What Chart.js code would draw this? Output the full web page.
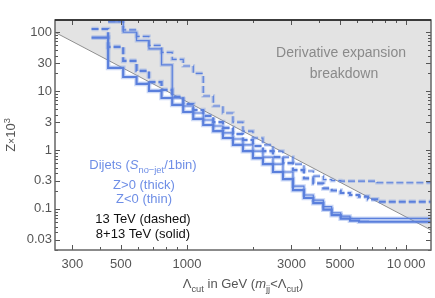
<!DOCTYPE html>
<html>
<head>
<meta charset="utf-8">
<script src="https://cdn.jsdelivr.net/npm/chart.js@4.4.1/dist/chart.umd.min.js"></script>
<style>
  html, body { margin: 0; padding: 0; background: #fff; }
  #wrap { width: 435px; height: 298px; }
</style>
</head>
<body>
<div id="wrap"><canvas id="zChart" width="435" height="298"></canvas></div>
<script>
// bin edges of the cut, GeV
const binEdges = [367, 437, 512, 589, 671, 766, 857, 962, 1069, 1187, 1319, 1460, 1622, 1802,
    2001, 2223, 2470, 2744, 3048, 3421, 3773, 4193, 4578, 5033, 5552, 6101, 6707, 7373, 13000];

// Z x 10^3 per bin (8+13 TeV solid, 13 TeV dashed; Z>0 thick, Z<0 thin)
const thickSolid = [81.3, 24.8, 17.4, 13.3, 10.1, 7.66, 5.83, 4.43, 3.37, 2.66, 2.10, 1.60, 1.22, 0.96,
    0.73, 0.578, 0.423, 0.321, 0.209, 0.153, 0.125, 0.0973, 0.0785, 0.0684, 0.0632, 0.0608, 0.0604, 0.0604];
const thickDashed = [114, 56.5, 32.6, 22.1, 14.3, 10.5, 7.97, 6.06, 4.79, 3.79, 2.99, 2.37, 1.87, 1.48,
    1.17, 0.96, 0.760, 0.601, 0.457, 0.330, 0.271, 0.223, 0.205, 0.186, 0.172, 0.161, 0.145, 0.132];
// thin curves start at the second edge
const thinSolid = [150, 100.4, 72.2, 52.2, 27.9, 7.66, 5.60, 4.26, 3.24, 2.56, 1.95, 1.54, 1.22,
    0.96, 0.760, 0.578, 0.423, 0.244, 0.172, 0.141, 0.109, 0.0859, 0.0755, 0.0690, 0.0690, 0.0690, 0.0690];
const thinDashed = [156, 110, 85.2, 59.9, 45.5, 34.6, 26.8, 20.0, 8.28, 5.60, 4.26, 2.99, 2.10,
    1.60, 1.22, 0.96, 0.760, 0.578, 0.440, 0.361, 0.315, 0.301, 0.297, 0.297, 0.297, 0.297, 0.278];

// derivative expansion breakdown boundary
const boundaryX = [250, 13000];
const boundaryY = [100, 0.0436];

const xTickLabels = [300, 500, 1000, 3000, 5000, 10000];
const xMinorTicks = [400, 600, 700, 800, 900, 2000, 4000, 6000, 7000, 8000, 9000];
const yTickLabels = [100, 30, 10, 3, 1, 0.3, 0.1, 0.03];
const yMinorTicks = [0.02, 0.04, 0.05, 0.06, 0.07, 0.08, 0.09, 0.2, 0.4, 0.5, 0.6, 0.7, 0.8, 0.9,
    2, 4, 5, 6, 7, 8, 9, 20, 40, 50, 60, 70, 80, 90];

const FONT = "'Liberation Sans', Arial, sans-serif";
const lineBlue = '#5a7fdc';
const haloBlue = 'rgba(110, 145, 230, 0.35)';
const textBlue = '#6e8ee6';
const labelGray = '#555';

function stepPoints(values, start) {
    const pts = values.map((v, i) => ({ x: binEdges[start + i], y: v }));
    pts.push({ x: binEdges[start + values.length], y: values[values.length - 1] });
    return pts;
}

function curve(values, start, width, dashed, halo) {
    return {
        data: stepPoints(values, start),
        stepped: true,
        borderColor: halo ? haloBlue : lineBlue,
        borderWidth: halo ? width + 2.5 : width,
        borderDash: dashed ? [7, 3] : [],
        pointRadius: 0,
        fill: false,
        order: halo ? 5 : 0,
    };
}

// draws text runs; sub / sup / italic / small
function drawRuns(ctx, runs, x, y, size, color, align) {
    const fontFor = (r) => {
        let s = size;
        if (r.sub || r.sup) s = size * 0.72;
        if (r.small) s = size * 0.8;
        return (r.italic ? 'italic ' : '') + s + 'px ' + FONT;
    };
    let total = 0;
    runs.forEach((r) => {
        ctx.font = fontFor(r);
        r.w = ctx.measureText(r.t).width;
        total += r.w;
    });
    let cx = align === 'left' ? x : x - total / 2;
    ctx.fillStyle = color;
    ctx.textBaseline = 'alphabetic';
    ctx.textAlign = 'left';
    runs.forEach((r) => {
        ctx.font = fontFor(r);
        let dy = 0;
        if (r.sub) dy = size * 0.28;
        if (r.sup) dy = -size * 0.42;
        ctx.fillText(r.t, cx, y + dy);
        cx += r.w;
    });
}

const framePlugin = {
    id: 'frameAndText',
    afterDraw(chart) {
        const { ctx, chartArea: a, scales } = chart;
        ctx.save();
        // ticks pointing inward on all four sides
        ctx.strokeStyle = '#555';
        ctx.lineWidth = 1;
        const yTicks = yTickLabels.map((v) => [v, 5]).concat(yMinorTicks.map((v) => [v, 3]));
        yTicks.forEach(([v, len]) => {
            const py = Math.round(scales.y.getPixelForValue(v)) + 0.5;
            ctx.beginPath();
            ctx.moveTo(a.left, py); ctx.lineTo(a.left + len, py);
            ctx.moveTo(a.right, py); ctx.lineTo(a.right - len, py);
            ctx.stroke();
        });
        const xTicks = xTickLabels.map((v) => [v, 5]).concat(xMinorTicks.map((v) => [v, 3]));
        xTicks.forEach(([v, len]) => {
            const px = Math.round(scales.x.getPixelForValue(v)) + 0.5;
            ctx.beginPath();
            ctx.moveTo(px, a.bottom); ctx.lineTo(px, a.bottom - len);
            ctx.moveTo(px, a.top); ctx.lineTo(px, a.top + len);
            ctx.stroke();
        });
        // frame
        ctx.strokeStyle = '#666';
        ctx.lineWidth = 1.5;
        ctx.strokeRect(a.left, a.top, a.right - a.left, a.bottom - a.top);
        ctx.strokeStyle = '#222';
        ctx.beginPath();
        ctx.moveTo(a.left, a.top); ctx.lineTo(a.right, a.top);
        ctx.stroke();

        // region label
        drawRuns(ctx, [{ t: 'Derivative expansion' }], 341, 57, 14, '#8a8a8a');
        drawRuns(ctx, [{ t: 'breakdown' }], 344, 77.5, 14, '#8a8a8a');

        // legend block
        drawRuns(ctx, [{ t: 'Dijets (' }, { t: 'S', italic: true }, { t: 'no\u2212jet', sub: true },
            { t: '/1bin)' }], 143, 169, 13, textBlue);
        drawRuns(ctx, [{ t: 'Z>0 (thick)' }], 144, 189, 13, textBlue);
        drawRuns(ctx, [{ t: 'Z<0 (thin)' }], 144, 203, 13, textBlue);
        drawRuns(ctx, [{ t: '13 TeV (dashed)' }], 143, 222.5, 13, '#111');
        drawRuns(ctx, [{ t: '8+13 TeV (solid)' }], 143, 237.5, 13, '#111');

        // x title
        drawRuns(ctx, [{ t: '\u039B' }, { t: 'cut', sub: true }, { t: ' in GeV (' },
            { t: 'm', italic: true }, { t: 'jj', sub: true }, { t: '<\u039B' }, { t: 'cut', sub: true },
            { t: ')' }], 243, 288, 13, labelGray);

        // y title
        ctx.translate(15, 135);
        ctx.rotate(-Math.PI / 2);
        drawRuns(ctx, [{ t: 'Z' }, { t: '\u00D7', small: true }, { t: '10' }, { t: '3', sup: true }],
            0, 0, 13, labelGray);
        ctx.restore();
    },
};

new Chart(document.getElementById('zChart'), {
    type: 'line',
    data: {
        datasets: [
            {
                data: boundaryX.map((x, i) => ({ x, y: boundaryY[i] })),
                borderColor: '#8e8e8e',
                borderWidth: 1,
                backgroundColor: '#e3e3e3',
                fill: 'end',
                pointRadius: 0,
                order: 10,
            },
            curve(thickSolid, 0, 2.2, false, true),
            curve(thickDashed, 0, 2.2, true, true),
            curve(thinSolid, 1, 1.2, false, true),
            curve(thinDashed, 1, 1.2, true, true),
            curve(thickSolid, 0, 2.2, false, false),
            curve(thickDashed, 0, 2.2, true, false),
            curve(thinSolid, 1, 1.2, false, false),
            curve(thinDashed, 1, 1.2, true, false),
        ],
    },
    options: {
        responsive: false,
        animation: false,
        layout: { padding: { top: 20, right: 4, left: 0, bottom: 0 } },
        plugins: {
            legend: { display: false },
            tooltip: { enabled: false },
        },
        scales: {
            x: {
                type: 'logarithmic',
                min: 250,
                max: 13000,
                afterFit(s) { s.height = 48; },
                afterBuildTicks(s) { s.ticks = xTickLabels.map((v) => ({ value: v })); },
                ticks: {
                    autoSkip: false,
                    maxRotation: 0,
                    padding: 7,
                    color: labelGray,
                    font: { family: FONT, size: 13 },
                    callback(v) { return v === 10000 ? '10\u2009000' : String(v); },
                },
                grid: { display: false, drawTicks: false },
                border: { display: false },
            },
            y: {
                type: 'logarithmic',
                min: 0.02,
                max: 162,
                afterFit(s) { s.width = 55; },
                afterBuildTicks(s) { s.ticks = yTickLabels.map((v) => ({ value: v })); },
                ticks: {
                    autoSkip: false,
                    padding: 3,
                    color: labelGray,
                    font: { family: FONT, size: 13 },
                    callback(v) { return String(v); },
                },
                grid: { display: false, drawTicks: false },
                border: { display: false },
            },
        },
    },
    plugins: [framePlugin],
});
</script>
</body>
</html>
